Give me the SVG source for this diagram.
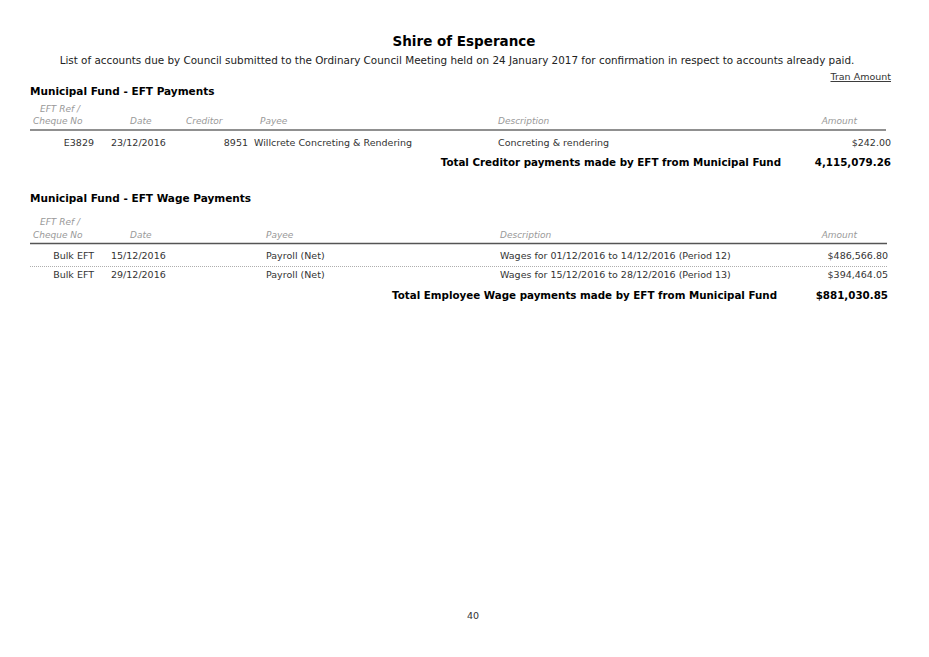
<svg xmlns="http://www.w3.org/2000/svg" width="929" height="657" viewBox="0 0 929 657">
<style>
text{font-family:"DejaVu Sans","Liberation Sans",sans-serif;fill:#222}
.t{font-size:13.5px;font-weight:bold;fill:#000}
.s{font-size:10.4px}
.h{font-size:10.5px;font-weight:bold;fill:#000}
.c{font-size:9px;font-style:italic;fill:#999}
.r{font-size:9.5px;fill:#333}
.b{font-size:10.3px;font-weight:bold;fill:#000}
.e{text-anchor:end}
</style>
<rect width="929" height="657" fill="#fff"/>
<text class="t" x="464" y="46" text-anchor="middle">Shire of Esperance</text>
<text class="s" x="457" y="64" text-anchor="middle">List of accounts due by Council submitted to the Ordinary Council Meeting held on 24 January 2017 for confirmation in respect to accounts already paid.</text>
<text class="r e" x="891" y="80" text-decoration="underline">Tran Amount</text>
<g id="eft">
<text class="h" x="30" y="95">Municipal Fund - EFT Payments</text>
<text class="c" x="40" y="112">EFT Ref /</text>
<text class="c" x="33" y="124">Cheque No</text>
<text class="c" x="130" y="124">Date</text>
<text class="c" x="186" y="124">Creditor</text>
<text class="c" x="260" y="124">Payee</text>
<text class="c" x="498" y="124">Description</text>
<text class="c e" x="857" y="124">Amount</text>
<line x1="30" y1="130" x2="886" y2="130" stroke="#222" stroke-width="1.2"/>
<text class="r e" x="94" y="146">E3829</text>
<text class="r" x="111" y="146">23/12/2016</text>
<text class="r e" x="248" y="146">8951</text>
<text class="r" x="254" y="146">Willcrete Concreting &amp; Rendering</text>
<text class="r" x="498" y="146">Concreting &amp; rendering</text>
<text class="r e" x="891" y="146">$242.00</text>
<text class="b e" x="781" y="166">Total Creditor payments made by EFT from Municipal Fund</text>
<text class="b e" x="891" y="166">4,115,079.26</text>
</g>
<g id="wage">
<text class="h" x="30" y="202">Municipal Fund - EFT Wage Payments</text>
<text class="c" x="40" y="225">EFT Ref /</text>
<text class="c" x="33" y="238">Cheque No</text>
<text class="c" x="130" y="238">Date</text>
<text class="c" x="266" y="238">Payee</text>
<text class="c" x="500" y="238">Description</text>
<text class="c e" x="857" y="238">Amount</text>
<line x1="30" y1="243.5" x2="887" y2="243.5" stroke="#555" stroke-width="1.5"/>
<text class="r e" x="94" y="259">Bulk EFT</text>
<text class="r" x="111" y="259">15/12/2016</text>
<text class="r" x="266" y="259">Payroll (Net)</text>
<text class="r" x="500" y="259">Wages for 01/12/2016 to 14/12/2016 (Period 12)</text>
<text class="r e" x="888" y="259">$486,566.80</text>
<line x1="30" y1="266.5" x2="887" y2="266.5" stroke="#999" stroke-width="0.8" stroke-dasharray="1,1"/>
<text class="r e" x="94" y="278">Bulk EFT</text>
<text class="r" x="111" y="278">29/12/2016</text>
<text class="r" x="266" y="278">Payroll (Net)</text>
<text class="r" x="500" y="278">Wages for 15/12/2016 to 28/12/2016 (Period 13)</text>
<text class="r e" x="888" y="278">$394,464.05</text>
<text class="b e" x="777" y="299">Total Employee Wage payments made by EFT from Municipal Fund</text>
<text class="b e" x="888" y="299">$881,030.85</text>
</g>
<text class="r" x="473" y="619" text-anchor="middle">40</text>
</svg>
